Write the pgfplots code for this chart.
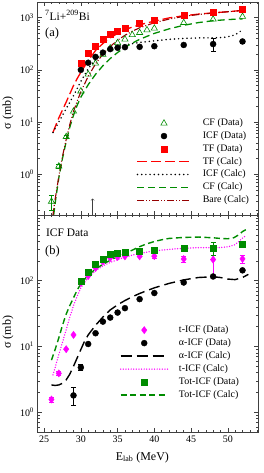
\documentclass[border=0pt]{standalone}
\usepackage{fontspec}
\setmainfont{Liberation Serif}
\usepackage{pgfplots}
\pgfplotsset{compat=1.18}
\definecolor{cfgreen}{RGB}{0,140,0}
\definecolor{darkred}{RGB}{150,0,0}
\definecolor{mag}{RGB}{255,0,255}
\newcommand\leglen{53bp}
\newcommand\leghalf{26.5bp}
\pgfplotsset{
  every axis/.append style={
    scale only axis, width=220.8bp,
    xmin=24.1, xmax=54.15,
    xtick={25,30,35,40,45,50},
    minor xtick={24,26,27,28,29,31,32,33,34,36,37,38,39,41,42,43,44,46,47,48,49,51,52,53,54},
    tick align=inside,
    major tick length=4bp, minor tick length=2.2bp,
    tick style={black!75, line width=0.5pt},
    axis line style={black!75, line width=0.6pt},
    tick label style={font=\fontsize{10}{12}\selectfont},
    legend cell align=left,
  },
  legend image code/.code={\draw[mark repeat=2, mark phase=2, #1] plot coordinates {(0bp,0bp) (\leghalf,0bp) (\leglen,0bp)};},
}
\begin{document}
\begin{tikzpicture}
% ---------------- top panel (a) ----------------
\begin{axis}[ymode=log, at={(0,217bp)}, height=213bp,
  ymin=0.165, ymax=2000,
  ytick={1,10,100,1000},
  yticklabels={10\textsuperscript{0},10\textsuperscript{1},10\textsuperscript{2},10\textsuperscript{3}},
  minor ytick={0.2,0.3,0.4,0.5,0.6,0.7,0.8,0.9,2,3,4,5,6,7,8,9,20,30,40,50,60,70,80,90,200,300,400,500,600,700,800,900,2000},
  xticklabels={},
  ylabel={σ (mb)},
  ylabel style={font=\fontsize{12}{14}\selectfont, at={(rel axis cs:0,0.48)}, anchor=center, yshift=29.5bp},
  legend style={at={(0.449,0.4606)}, anchor=north west, draw=none, fill=none,
    inner sep=0pt, outer sep=0pt, font=\fontsize{10}{12}\selectfont, row sep=0pt,
    nodes={inner sep=1.5bp, text height=7.3bp, text depth=2.5bp},
    /tikz/every odd column/.append style={column sep=10bp}},
]
\addplot[only marks, mark=triangle, mark size=3.6bp, cfgreen, mark options={line width=0.6pt}] coordinates {
(26,0.30) (27,1.42) (28,5.2) (29,16) (30,39) (31,82) (32,133) (33,196) (34,260) (35,330) (36,385) (37,470) (38,515) (39,580) (40,625) (44,800) (48,930) (52,1050)};
\addlegendentry{CF (Data)}
\addplot[only marks, mark=*, mark size=3bp, black] coordinates {
(30,100) (31,137) (32,177) (33,214) (34,250) (35,265) (36,272) (38,276) (40,284) (44,300) (48,312) (52,350)};
\addlegendentry{ICF (Data)}
\addplot[only marks, mark=square*, mark size=3bp, red] coordinates {
(30,137) (31,207) (32,284) (33,395) (34,492) (35,552) (36,642) (38,785) (40,900) (44,1117) (48,1260) (52,1460)};
\addlegendentry{TF (Data)}
\addplot[red, line width=1.3pt, dash pattern=on 10bp off 4bp] coordinates {
(26.2,6.3) (27,12) (28,24) (29,50) (29.5,68) (30,90) (31,150) (32,235) (33,320) (34,410) (35,500) (36,590) (37,660) (38,730) (40,860) (42,990) (44,1090) (46,1170) (48,1240) (50,1300) (52,1380)};
\addlegendentry{TF (Calc)}
\addplot[black, line width=1.7pt, line cap=round, dash pattern=on 0bp off 4.2bp] coordinates {
(26.2,6.3) (27,10) (28,18) (29,32) (30,60) (31,105) (32,160) (33,210) (34,250) (35,280) (36,300) (38,335) (40,360) (42,385) (44,400) (46,410) (48,410) (49.5,420) (50.5,445) (51.2,490) (51.8,560)};
\addlegendentry{ICF (Calc)}
\addplot[cfgreen, line width=1.3pt, dash pattern=on 7bp off 4bp] coordinates {
(26.3,0.165) (26.6,0.35) (27,0.85) (27.5,2.0) (28,4.2) (28.5,8) (29,13.5) (29.5,21) (30,30) (31,52) (32,82) (33,120) (34,165) (35,215) (36,270) (37,325) (38,385) (40,500) (42,610) (44,715) (46,805) (48,875) (50,920) (52,950)};
\addlegendentry{CF (Calc)}
\addplot[darkred, line width=1.1pt, dash pattern=on 7bp off 2bp on 1bp off 2bp on 1bp off 2bp] coordinates {
(26.2,0.165) (26.5,0.33) (27,0.9) (27.5,2.2) (28,4.6) (28.5,9) (29,16) (29.5,25) (30,38) (31,75) (32,130) (33,200) (34,280) (35,370) (36,460) (37,550) (38,640) (40,800) (42,940) (44,1060) (46,1150) (48,1230) (50,1300) (52,1370)};
\addlegendentry{Bare (Calc)}
\addplot[forget plot, draw=none, mark=none, cfgreen,
  error bars/y dir=both, error bars/y explicit,
  error bars/error bar style={line width=0.6pt, cfgreen, solid},
  error bars/error mark options={rotate=90, mark size=2.6bp, line width=0.6pt, cfgreen}]
  coordinates {(26,0.30) +- (0,0.1) (27,1.42) +- (0,0.15) (28,5.2) +- (0,0.4)};
\addplot[forget plot, draw=none, mark=none, black,
  error bars/y dir=both, error bars/y explicit,
  error bars/error bar style={line width=0.6pt, black, solid},
  error bars/error mark options={rotate=90, mark size=2.6bp, line width=0.6pt, black}]
  coordinates {(44,300) +- (0,15) (48,312) +- (0,90) (52,350) +- (0,25)};
\draw[->, black!75, line width=0.5pt] (axis cs:31.6,0.165) -- (axis cs:31.6,0.34);
\node[anchor=base west, font=\fontsize{11.5}{13}\selectfont, inner sep=0pt] at (rel axis cs:0.034,0.915) {\textsuperscript{7}Li+\textsuperscript{209}Bi};
\node[anchor=base west, font=\fontsize{12.5}{14}\selectfont, inner sep=0pt] at (rel axis cs:0.034,0.836) {(a)};
\end{axis}
\renewcommand\leglen{47bp}
\renewcommand\leghalf{23.5bp}
% ---------------- bottom panel (b) ----------------
\begin{axis}[ymode=log, at={(0,0)}, height=217bp,
  ymin=0.5, ymax=1000,
  ytick={1,10,100},
  yticklabels={10\textsuperscript{0},10\textsuperscript{1},10\textsuperscript{2}},
  minor ytick={0.6,0.7,0.8,0.9,2,3,4,5,6,7,8,9,20,30,40,50,60,70,80,90,200,300,400,500,600,700,800,900},
  xticklabels={25,30,35,40,45,50},
  xlabel={E\textsubscript{lab} (MeV)},
  xlabel style={at={(rel axis cs:0.475,0)}, anchor=base, yshift=-28bp, font=\fontsize{12}{14}\selectfont},
  ylabel={σ (mb)},
  ylabel style={font=\fontsize{12}{14}\selectfont, at={(rel axis cs:0,0.46)}, anchor=center, yshift=29.5bp},
  legend style={at={(0.3736,0.4995)}, anchor=north west, draw=none, fill=none,
    inner sep=0pt, outer sep=0pt, font=\fontsize{10}{12}\selectfont, row sep=0pt,
    nodes={inner sep=1.5bp, text height=7.5bp, text depth=2.5bp},
    /tikz/every odd column/.append style={column sep=9bp}},
]
\addplot[only marks, mark=diamond*, mark size=3.6bp, mag] coordinates {
(26,1.56) (27,3.9) (28,9.1) (29,15) (30,92) (31,118) (32,156) (33,195) (34,222) (35,230) (36,235) (38,235) (40,237) (44,214) (48,210) (52,215)};
\addlegendentry{t-ICF (Data)}
\addplot[only marks, mark=*, mark size=3bp, black] coordinates {
(29,1.8) (30,4.8) (31,10.9) (32,15.9) (33,23.9) (34,27.5) (35,32.8) (36,38.3) (38,52.5) (40,65) (44,94) (48,116) (52,144)};
\addlegendentry{α-ICF (Data)}
\addplot[black, line width=1.4pt, dash pattern=on 11bp off 5bp] coordinates {
(26,2.6) (26.5,2.55) (27,2.6) (27.5,2.75) (28,3.1) (28.5,3.8) (29,5) (29.5,6.7) (30,9) (30.5,12) (31,15) (32,21) (33,28) (34,36) (35,43) (36,50) (37,57) (38,64) (40,78) (42,91) (44,103) (46,112) (48,115) (49,112) (50,106) (51,104) (52,112) (52.8,125)};
\addlegendentry{α-ICF (Calc)}
\addplot[mag, line width=1.5pt, line cap=round, dash pattern=on 0bp off 2.6bp] coordinates {
(26.2,3.7) (26.5,4.8) (27,7.5) (27.5,11.5) (28,18) (28.5,28) (29,42) (29.5,58) (30,78) (31,112) (32,142) (33,168) (34,190) (35,210) (36,228) (37,245) (38,260) (40,285) (42,300) (44,312) (46,318) (48,318) (49,320) (50,328) (51,355) (51.5,395) (52,445) (52.5,490)};
\addlegendentry{t-ICF (Calc)}
\addplot[only marks, mark=square*, mark size=3bp, cfgreen] coordinates {
(30,100) (31,137) (32,177) (33,214) (34,252) (35,267) (36,270) (38,282) (40,290) (44,308) (48,316) (52,354)};
\addlegendentry{Tot-ICF (Data)}
\addplot[cfgreen, line width=1.4pt, dash pattern=on 6bp off 3.5bp] coordinates {
(26,6.2) (26.5,9) (27,13.5) (27.5,21) (28,31) (28.5,42) (29,55) (29.5,72) (30,90) (31,122) (32,150) (33,178) (34,205) (35,232) (36,260) (37,292) (38,330) (39,365) (40,395) (41,420) (42,440) (44,456) (46,462) (48,450) (49,440) (50,435) (50.8,450) (51.5,500) (52,560) (52.8,630)};
\addlegendentry{Tot-ICF (Calc)}
\addplot[forget plot, draw=none, mark=none, mag,
  error bars/y dir=both, error bars/y explicit,
  error bars/error bar style={line width=0.6pt, mag, solid},
  error bars/error mark options={rotate=90, mark size=2.6bp, line width=0.6pt, mag}]
  coordinates {(26,1.56) +- (0,0.15) (27,3.9) +- (0,0.3) (40,237) +- (0,20) (44,214) +- (0,25) (48,210) +- (0,88) (52,215) +- (0,30)};
\addplot[forget plot, draw=none, mark=none, black,
  error bars/y dir=both, error bars/y explicit,
  error bars/error bar style={line width=0.6pt, black, solid},
  error bars/error mark options={rotate=90, mark size=2.6bp, line width=0.6pt, black}]
  coordinates {(29,1.8) += (0,0.63) -= (0,0.52) (30,4.8) +- (0,0.5)};
\addplot[forget plot, draw=none, mark=none, cfgreen,
  error bars/y dir=both, error bars/y explicit,
  error bars/error bar style={line width=0.6pt, cfgreen, solid},
  error bars/error mark options={rotate=90, mark size=2.6bp, line width=0.6pt, cfgreen}]
  coordinates {(48,316) +- (0,70) (52,354) +- (0,25)};
\node[anchor=base west, font=\fontsize{11.5}{13}\selectfont, inner sep=0pt] at (rel axis cs:0.038,0.899) {ICF Data};
\node[anchor=base west, font=\fontsize{12.5}{14}\selectfont, inner sep=0pt] at (rel axis cs:0.034,0.82) {(b)};
\end{axis}
\pgfresetboundingbox
\path[use as bounding box] (-37.5bp,-41bp) rectangle (226.5bp,432bp);
\end{tikzpicture}
\end{document}
